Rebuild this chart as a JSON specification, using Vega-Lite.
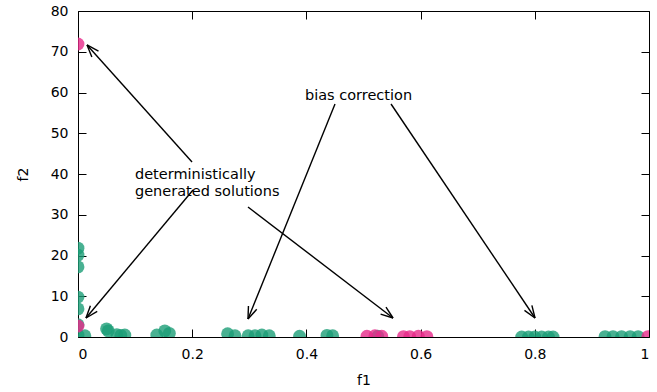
{
  "$schema": "https://vega.github.io/schema/vega-lite/v6.json",
  "width": 571,
  "height": 326,
  "autosize": {"type": "none"},
  "padding": {"left": 78, "top": 11, "right": 8, "bottom": 55},
  "config": {
    "view": {"stroke": "black", "strokeWidth": 1},
    "font": "DejaVu Sans",
    "axis": {
      "grid": false,
      "domain": false,
      "tickColor": "black",
      "tickWidth": 1,
      "labelColor": "black",
      "labelFont": "DejaVu Sans",
      "labelFontSize": 14,
      "titleFont": "DejaVu Sans",
      "titleFontSize": 14,
      "titleFontWeight": "normal",
      "titleColor": "black"
    }
  },
  "datasets": {
    "points": [
      {"f1": 0.0, "f2": 21.8, "g": "a"},
      {"f1": 0.0, "f2": 20.1, "g": "a"},
      {"f1": 0.0, "f2": 17.2, "g": "a"},
      {"f1": 0.0, "f2": 9.8, "g": "a"},
      {"f1": 0.0, "f2": 6.9, "g": "a"},
      {"f1": 0.0, "f2": 3.0, "g": "a"},
      {"f1": 0.0, "f2": 0.5, "g": "a"},
      {"f1": 0.012, "f2": 0.3, "g": "a"},
      {"f1": 0.05, "f2": 2.0, "g": "a"},
      {"f1": 0.053, "f2": 1.5, "g": "a"},
      {"f1": 0.068, "f2": 0.6, "g": "a"},
      {"f1": 0.075, "f2": 0.4, "g": "a"},
      {"f1": 0.082, "f2": 0.5, "g": "a"},
      {"f1": 0.138, "f2": 0.5, "g": "a"},
      {"f1": 0.152, "f2": 1.5, "g": "a"},
      {"f1": 0.16, "f2": 0.9, "g": "a"},
      {"f1": 0.262, "f2": 0.8, "g": "a"},
      {"f1": 0.275, "f2": 0.3, "g": "a"},
      {"f1": 0.298, "f2": 0.3, "g": "a"},
      {"f1": 0.31, "f2": 0.3, "g": "a"},
      {"f1": 0.322, "f2": 0.5, "g": "a"},
      {"f1": 0.335, "f2": 0.3, "g": "a"},
      {"f1": 0.388, "f2": 0.2, "g": "a"},
      {"f1": 0.436, "f2": 0.4, "g": "a"},
      {"f1": 0.446, "f2": 0.3, "g": "a"},
      {"f1": 0.525, "f2": 0.2, "g": "a"},
      {"f1": 0.777, "f2": 0.0, "g": "a"},
      {"f1": 0.789, "f2": 0.0, "g": "a"},
      {"f1": 0.8, "f2": 0.0, "g": "a"},
      {"f1": 0.812, "f2": 0.0, "g": "a"},
      {"f1": 0.824, "f2": 0.0, "g": "a"},
      {"f1": 0.832, "f2": 0.0, "g": "a"},
      {"f1": 0.923, "f2": 0.1, "g": "a"},
      {"f1": 0.937, "f2": 0.1, "g": "a"},
      {"f1": 0.952, "f2": 0.1, "g": "a"},
      {"f1": 0.967, "f2": 0.1, "g": "a"},
      {"f1": 0.981, "f2": 0.1, "g": "a"},
      {"f1": 0.0, "f2": 71.9, "g": "b"},
      {"f1": 0.0, "f2": 2.7, "g": "b"},
      {"f1": 0.506, "f2": 0.2, "g": "b"},
      {"f1": 0.52, "f2": 0.3, "g": "b"},
      {"f1": 0.532, "f2": 0.2, "g": "b"},
      {"f1": 0.57, "f2": 0.1, "g": "b"},
      {"f1": 0.581, "f2": 0.1, "g": "b"},
      {"f1": 0.596, "f2": 0.2, "g": "b"},
      {"f1": 0.611, "f2": 0.1, "g": "b"},
      {"f1": 0.998, "f2": 0.1, "g": "b"}
    ],
    "arrows": [
      {"x": 0.1997, "y": 42.94, "x2": 0.0158, "y2": 71.66},
      {"x": 0.2014, "y": 36.07, "x2": 0.014, "y2": 4.663},
      {"x": 0.2977, "y": 31.9, "x2": 0.5517, "y2": 4.663},
      {"x": 0.4501, "y": 57.18, "x2": 0.2977, "y2": 4.417},
      {"x": 0.5482, "y": 57.18, "x2": 0.8004, "y2": 4.663}
    ],
    "heads": [
      {"x": 0.0158, "y": 71.66, "x2": 0.02426, "y2": 68.7},
      {"x": 0.0158, "y": 71.66, "x2": 0.03585, "y2": 70.15},
      {"x": 0.014, "y": 4.663, "x2": 0.0337, "y2": 6.263},
      {"x": 0.014, "y": 4.663, "x2": 0.02175, "y2": 7.661},
      {"x": 0.5517, "y": 4.663, "x2": 0.5394, "y2": 7.352},
      {"x": 0.5517, "y": 4.663, "x2": 0.5299, "y2": 5.62},
      {"x": 0.2977, "y": 4.417, "x2": 0.313, "y2": 6.788},
      {"x": 0.2977, "y": 4.417, "x2": 0.2985, "y2": 7.605},
      {"x": 0.8004, "y": 4.663, "x2": 0.7949, "y2": 7.76},
      {"x": 0.8004, "y": 4.663, "x2": 0.7819, "y2": 6.542}
    ],
    "labels": [
      {"x": 0.0998, "y": 38.77, "text": ["deterministically", "generated solutions"]},
      {"x": 0.3975, "y": 58.16, "text": ["bias correction"]}
    ]
  },
  "resolve": {"axis": {"x": "independent", "y": "independent"}},
  "layer": [
    {
      "data": {"name": "points"},
      "mark": {"type": "point", "shape": "circle", "filled": true, "size": 165, "opacity": 0.8, "strokeWidth": 0, "clip": true},
      "encoding": {
        "x": {"field": "f1", "type": "quantitative", "scale": {"domain": [0, 1], "nice": false},
          "axis": {"orient": "bottom", "values": [0, 0.2, 0.4, 0.6, 0.8, 1], "format": "~g", "tickSize": -8, "labelPadding": 18, "title": "f1", "titlePadding": 12}},
        "y": {"field": "f2", "type": "quantitative", "scale": {"domain": [0, 80], "nice": false},
          "axis": {"orient": "left", "values": [0, 10, 20, 30, 40, 50, 60, 70, 80], "tickSize": -8, "labelPadding": 18, "title": "f2", "titlePadding": 20}},
        "color": {"field": "g", "type": "nominal", "scale": {"domain": ["a", "b"], "range": ["#1b9e77", "#e7298a"]}, "legend": null}
      }
    },
    {
      "data": {"name": "arrows"},
      "mark": {"type": "rule", "color": "black", "strokeWidth": 1.4},
      "encoding": {
        "x": {"field": "x", "type": "quantitative", "axis": {"orient": "top", "values": [0, 0.2, 0.4, 0.6, 0.8, 1], "tickSize": -8, "labels": false, "title": null}},
        "y": {"field": "y", "type": "quantitative", "axis": {"orient": "right", "values": [0, 10, 20, 30, 40, 50, 60, 70, 80], "tickSize": -8, "labels": false, "title": null}},
        "x2": {"field": "x2"},
        "y2": {"field": "y2"}
      }
    },
    {
      "data": {"name": "heads"},
      "mark": {"type": "rule", "color": "black", "strokeWidth": 1.4},
      "encoding": {
        "x": {"field": "x", "type": "quantitative", "axis": null},
        "y": {"field": "y", "type": "quantitative", "axis": null},
        "x2": {"field": "x2"},
        "y2": {"field": "y2"}
      }
    },
    {
      "data": {"name": "labels"},
      "mark": {"type": "text", "align": "left", "baseline": "alphabetic", "fontSize": 14.5, "lineHeight": 17, "font": "DejaVu Sans", "color": "black"},
      "encoding": {
        "x": {"field": "x", "type": "quantitative", "axis": null},
        "y": {"field": "y", "type": "quantitative", "axis": null},
        "text": {"field": "text"}
      }
    }
  ]
}
